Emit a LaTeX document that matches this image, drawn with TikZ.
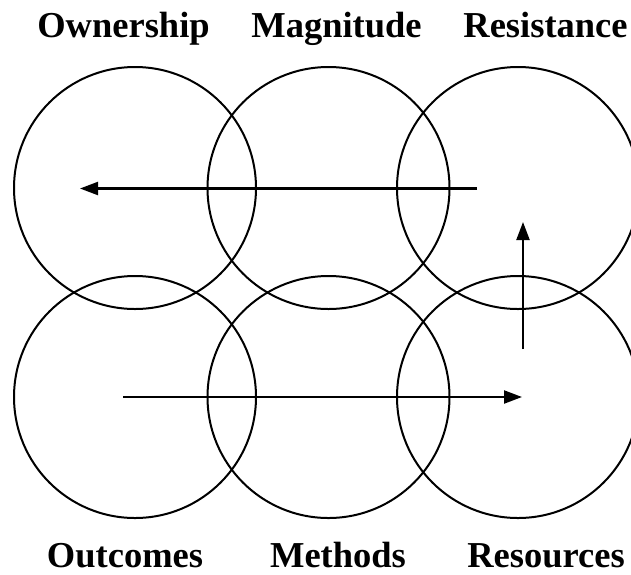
\documentclass[tikz,border=0pt]{standalone}
\usepackage{fontspec}
\setmainfont{Liberation Serif}
\usetikzlibrary{arrows.meta}

\begin{document}
\begin{tikzpicture}[
    x=1pt, y=-1pt,
    ring/.style={draw, circle, line width=2pt, minimum size=242pt, inner sep=0pt},
    lbl/.style={anchor=base, inner sep=0pt, font=\fontsize{36.5}{40}\selectfont\bfseries},
    arr/.style={line width=2.2pt, -{Triangle[length=18pt, width=13pt]}}
  ]
  \useasboundingbox (0,0) rectangle (631,574);

  \node[ring] (own) at (135,188)   {};
  \node[ring] (mag) at (328.5,188) {};
  \node[ring] (res) at (518,188)   {};
  \node[ring] (out) at (135,397)   {};
  \node[ring] (met) at (328.5,397) {};
  \node[ring] (rsc) at (518,397)   {};

  \node[lbl] (lOwn) at (123.5,37) {Ownership};
  \node[lbl] (lMag) at (336.5,37) {Magnitude};
  \node[lbl] (lRes) at (545.5,37) {Resistance};
  \node[lbl] (lOut) at (125,567)  {Outcomes};
  \node[lbl] (lMet) at (338,567)  {Methods};
  \node[lbl] (lRsc) at (546,567)  {Resources};

  \coordinate (a1) at (123,397);
  \coordinate (a2) at (522,397);
  \coordinate (b1) at (523,349);
  \coordinate (b2) at (523,222);
  \coordinate (c1) at (477,188.5);
  \coordinate (c2) at (80,188.5);

  \draw[arr] (a1) -- (a2);
  \draw[arr] (b1) -- (b2);
  \draw[arr] (c1) -- (c2);
\end{tikzpicture}
\end{document}
